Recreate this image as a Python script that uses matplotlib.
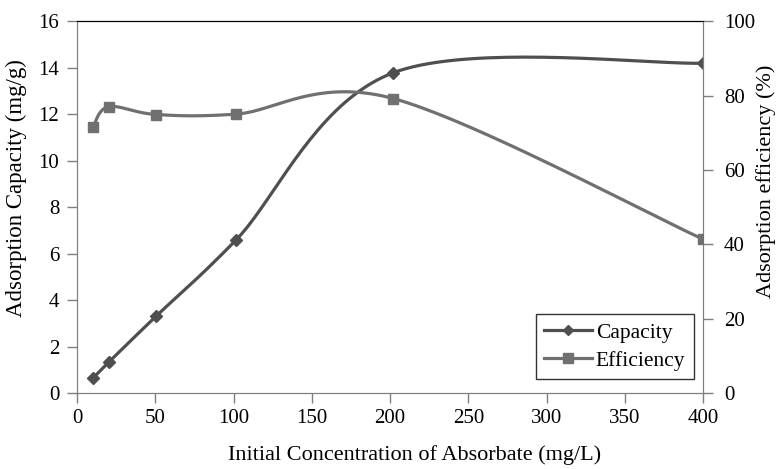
import numpy as np
import matplotlib
matplotlib.use("Agg")
import matplotlib.pyplot as plt

# значения
conc = [10, 20, 50.5, 101.5, 202, 400]
capacity = [0.65, 1.33, 3.32, 6.59, 13.78, 14.19]
efficiency = [71.5, 77.0, 74.9, 75.0, 79.2, 41.4]


def smooth(x, y, n=40):
    # сглаживание как в Excel: кривые Безье через точки
    p = np.column_stack([x, y]).astype(float)
    p = np.vstack([p[0], p, p[-1]])
    out = []
    t = np.linspace(0, 1, n)[:, None]
    for i in range(1, len(p) - 2):
        p0, p1, p2, p3 = p[i - 1], p[i], p[i + 1], p[i + 2]
        c1 = p1 + (p2 - p0) / 6
        c2 = p2 - (p3 - p1) / 6
        seg = ((1 - t) ** 3) * p1 + 3 * ((1 - t) ** 2) * t * c1 + 3 * (1 - t) * t ** 2 * c2 + t ** 3 * p2
        out.append(seg)
    s = np.vstack(out)
    return s[:, 0], s[:, 1]


plt.rcParams['font.family'] = ['Liberation Serif', 'DejaVu Serif']
plt.rcParams['font.size'] = 15

c_cap = '#4f4f4f'
c_eff = '#707070'
axis_col = '#7f7f7f'

fig = plt.figure(figsize=(7.76, 4.69), dpi=100)
ax = fig.add_axes([0.0995, 0.1614, 0.8065, 0.7936])
ax2 = ax.twinx()

sx, sy = smooth(conc, capacity)
ax.plot(sx, sy, color=c_cap, lw=2.3, zorder=3)
ax.plot(conc, capacity, ls='none', marker='D', ms=6, color=c_cap, zorder=4)

ex, ey = smooth(conc, efficiency)
ax2.plot(ex, ey, color=c_eff, lw=2.3, zorder=3)
ax2.plot(conc, efficiency, ls='none', marker='s', ms=7.5, color=c_eff, zorder=4)

ax.set_xlim(0, 400)
ax.set_ylim(0, 16)
ax2.set_ylim(0, 100)
ax.set_xticks(range(0, 401, 50))
ax.set_yticks(range(0, 17, 2))
ax2.set_yticks(range(0, 101, 20))

for a in (ax, ax2):
    a.tick_params(direction='out', length=7, width=1, color=axis_col, labelsize=15)
    for side in ('left', 'right', 'bottom'):
        a.spines[side].set_color(axis_col)
    a.spines['top'].set_color('black')
ax.tick_params(axis='x', pad=4)
ax.tick_params(axis='y', pad=6)
ax2.tick_params(axis='y', pad=8)

ax.set_xlabel('Initial Concentration of Absorbate (mg/L)', fontsize=16)
ax.set_ylabel('Adsorption Capacity (mg/g)', fontsize=16.5)
ax2.set_ylabel('Adsorption efficiency (%)', fontsize=16)
# подписи осей стоят не по центру, как в исходнике
ax.xaxis.set_label_coords(0.539, -0.138)
ax.yaxis.set_label_coords(-0.081, 0.551)
ax2.yaxis.set_label_coords(1.085, 0.570)

# легенда
h1, = ax.plot([], [], color=c_cap, lw=2.3, marker='D', ms=5)
h2, = ax.plot([], [], color=c_eff, lw=2.3, marker='s', ms=7)
leg = ax2.legend([h1, h2], ['Capacity', 'Efficiency'], loc='lower right',
                 bbox_to_anchor=(0.9856, 0.038), frameon=True, fancybox=False,
                 edgecolor='black', handlelength=2.2, handletextpad=0.2,
                 borderpad=0.4, labelspacing=0.35, borderaxespad=0, fontsize=15.5)
leg.get_frame().set_linewidth(1)

fig.savefig('out.png', dpi=100)
